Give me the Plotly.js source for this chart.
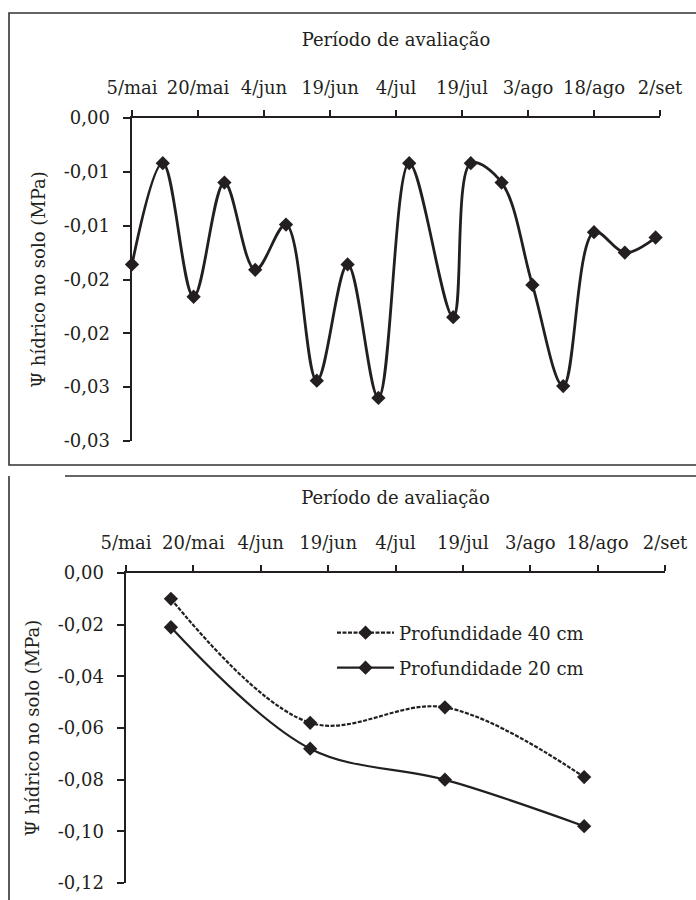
<!DOCTYPE html>
<html>
<head>
<meta charset="utf-8">
<script src="https://cdn.plot.ly/plotly-3.0.1.min.js"></script>
<style>html,body{margin:0;padding:0;background:#fff;}#chart{width:696px;height:900px;}</style>
</head>
<body>
<div id="chart"></div>
<script>
// ---- data ----
const xTickDates = ['2010-05-05','2010-05-20','2010-06-04','2010-06-19','2010-07-04','2010-07-19','2010-08-03','2010-08-18','2010-09-02'];
const xTickLabels = ['5/mai','20/mai','4/jun','19/jun','4/jul','19/jul','3/ago','18/ago','2/set'];

const topDates = ['2010-05-05','2010-05-12','2010-05-19','2010-05-26','2010-06-02','2010-06-09','2010-06-16','2010-06-23','2010-06-30','2010-07-07','2010-07-17','2010-07-21','2010-07-28','2010-08-04','2010-08-11','2010-08-18','2010-08-25','2010-09-01'];
const topValues = [-0.0136,-0.0042,-0.0166,-0.0060,-0.0141,-0.0099,-0.0244,-0.0136,-0.0260,-0.0042,-0.0185,-0.0042,-0.0060,-0.0155,-0.0249,-0.0106,-0.0125,-0.0111];
const topYTickVals = [0,-0.005,-0.01,-0.015,-0.02,-0.025,-0.03];
const topYTickLabels = ['0,00','-0,01','-0,01','-0,02','-0,02','-0,03','-0,03'];

const botDates = ['2010-05-15','2010-06-15','2010-07-15','2010-08-15'];
const prof40 = [-0.010,-0.058,-0.052,-0.079];
const prof20 = [-0.021,-0.068,-0.080,-0.098];
const botYTickVals = [0,-0.02,-0.04,-0.06,-0.08,-0.10,-0.12];
const botYTickLabels = ['0,00','-0,02','-0,04','-0,06','-0,08','-0,10','-0,12'];

const seriesNames = ['Profundidade 40 cm','Profundidade 20 cm'];
const xTitle = 'Período de avaliação';
const yTitle = 'Ψ hídrico no solo (MPa)';

// ---- styling ----
const W = 696, H = 900;
const ink = '#231f20';
const FONT = 'DejaVu Serif';
const FS = 18;
const px = v => v / W;
const py = v => 1 - v / H;

const markerStyle = {symbol:'diamond', size:11, color:ink};

const traces = [
  {x: topDates, y: topValues, xaxis:'x', yaxis:'y', type:'scatter', mode:'lines+markers',
   line:{color:ink, width:2.8, shape:'spline', smoothing:1}, marker:markerStyle,
   cliponaxis:false, showlegend:false},
  {x: botDates, y: prof40, xaxis:'x2', yaxis:'y2', type:'scatter', mode:'lines+markers', name: seriesNames[0],
   line:{color:ink, width:2.2, shape:'spline', smoothing:1, dash:'4px,1.5px'}, marker:markerStyle,
   cliponaxis:false, legend:'legend'},
  {x: botDates, y: prof20, xaxis:'x2', yaxis:'y2', type:'scatter', mode:'lines+markers', name: seriesNames[1],
   line:{color:ink, width:2.2, shape:'spline', smoothing:1}, marker:markerStyle,
   cliponaxis:false, legend:'legend2'}
];

function xAxis(d0, d1, standoff) {
  return {
    domain:[px(d0), px(d1)], side:'top', type:'date',
    range:['2010-05-05','2010-09-02'],
    tickmode:'array', tickvals:xTickDates, ticktext:xTickLabels,
    showgrid:false, zeroline:false, showline:true, linecolor:ink, linewidth:2.5,
    ticks:'outside', ticklen:6, tickwidth:2, tickcolor:ink,
    tickfont:{family:FONT, size:FS, color:ink}, ticklabelstandoff:8,
    title:{text:xTitle, font:{family:FONT, size:FS, color:ink}, standoff:standoff},
    fixedrange:true
  };
}
function yAxis(d0, d1, range, vals, labels) {
  return {
    domain:[py(d1), py(d0)], range:range,
    tickmode:'array', tickvals:vals, ticktext:labels,
    showgrid:false, zeroline:false, showline:true, linecolor:ink, linewidth:2.5,
    ticks:'outside', ticklen:7, tickwidth:2, tickcolor:ink,
    tickfont:{family:FONT, size:FS, color:ink}, ticklabelstandoff:9,
    title:{text:yTitle, font:{family:FONT, size:FS, color:ink}, standoff:14},
    fixedrange:true
  };
}

const xa = xAxis(132, 660, 26);
const ya = yAxis(118, 441, [-0.03, 0], topYTickVals, topYTickLabels);
const xa2 = xAxis(126, 665, 23);
xa2.anchor = 'y2';
const ya2 = yAxis(573, 883, [-0.12, 0], botYTickVals, botYTickLabels);
ya2.anchor = 'x2';
xa.anchor = 'y'; ya.anchor = 'x';

const legendBase = {
  xanchor:'left', yanchor:'middle', bgcolor:'rgba(0,0,0,0)', borderwidth:0,
  font:{family:FONT, size:FS, color:ink}, itemwidth:57
};

const layout = {
  width:W, height:H,
  margin:{l:0, r:0, t:0, b:0},
  font:{family:FONT, color:ink},
  paper_bgcolor:'#fff', plot_bgcolor:'rgba(0,0,0,0)',
  xaxis:xa, yaxis:ya, xaxis2:xa2, yaxis2:ya2,
  legend:Object.assign({x:px(332), y:py(633)}, legendBase),
  legend2:Object.assign({x:px(332), y:py(668)}, legendBase),
  shapes:[
    {type:'rect', xref:'paper', yref:'paper', x0:px(9), x1:px(705), y0:py(465), y1:py(13),
     line:{color:'#333', width:1.6}},
    {type:'line', xref:'paper', yref:'paper', x0:px(65), x1:px(705), y0:py(476), y1:py(476),
     line:{color:'#333', width:1.6}},
    {type:'line', xref:'paper', yref:'paper', x0:px(9), x1:px(9), y0:py(476), y1:py(910),
     line:{color:'#333', width:1.6}}
  ]
};

Plotly.newPlot('chart', traces, layout, {staticPlot:true, displayModeBar:false});
</script>
</body>
</html>
